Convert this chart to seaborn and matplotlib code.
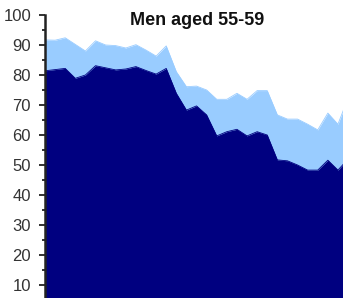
import matplotlib
matplotlib.use("Agg")
import matplotlib.pyplot as plt
from matplotlib.ticker import MultipleLocator
import seaborn as sns
import pandas as pd

# ---- data ----
periods = list(range(31))
light_top = [91.7, 91.6, 92.4, 90.2, 88.0, 91.4, 90.0, 89.8, 89.0, 90.1,
             88.3, 86.3, 89.7, 81.1, 76.1, 76.3, 75.0, 71.9, 71.9, 73.9,
             71.9, 74.8, 74.8, 66.7, 65.3, 65.3, 63.6, 61.7, 67.3, 63.6,
             72.3]
dark_top = [81.4, 81.8, 82.2, 78.9, 80.0, 83.1, 82.4, 81.7, 82.0, 82.8,
            81.5, 80.3, 82.2, 73.9, 68.3, 69.7, 66.7, 59.7, 61.1, 61.9,
            59.7, 61.1, 60.0, 51.7, 51.4, 50.0, 48.3, 48.3, 51.6, 48.3,
            52.0]
title = "Men aged 55-59"
ytick_values = [10, 20, 30, 40, 50, 60, 70, 80, 90, 100]

df = pd.DataFrame({"period": periods, "light": light_top, "dark": dark_top})

sns.set_style("white")
plt.rcParams["font.family"] = ["Liberation Sans", "DejaVu Sans"]

W, H = 343, 298
fig = plt.figure(figsize=(W / 100, H / 100), dpi=100)
ax = fig.add_axes([45 / W, -17 / H, 1 - 45 / W, 300 / H])

LIGHT = "#99ccff"
DARK = "#000080"

ax.fill_between(df["period"], 0, df["light"], color=LIGHT, linewidth=0)
ax.fill_between(df["period"], 0, df["dark"], color=DARK, linewidth=0)
sns.lineplot(data=df, x="period", y="light", color=LIGHT, linewidth=0.6, ax=ax)
sns.lineplot(data=df, x="period", y="dark", color=DARK, linewidth=0.6, ax=ax)

ax.set_xlim(0, 29.5)
ax.set_ylim(0, 100)
ax.set_xlabel("")
ax.set_ylabel("")
ax.set_xticks([])
ax.set_yticks(ytick_values)
ax.yaxis.set_minor_locator(MultipleLocator(5))
ax.tick_params(axis="y", which="major", length=4.5, width=1.3, pad=5.5,
               labelsize=12, color="#222222", labelcolor="#333333", left=True)
ax.tick_params(axis="y", which="minor", length=2.4, width=1.3, color="#222222", left=True)

for s in ["top", "right", "bottom"]:
    ax.spines[s].set_visible(False)
ax.spines["left"].set_linewidth(1.8)
ax.spines["left"].set_color("#222222")

fig.text(197 / W, 1 - 25 / H, title, ha="center", va="baseline",
         fontsize=13, fontweight="bold", color="#111111")

fig.savefig("out.png", dpi=100)
